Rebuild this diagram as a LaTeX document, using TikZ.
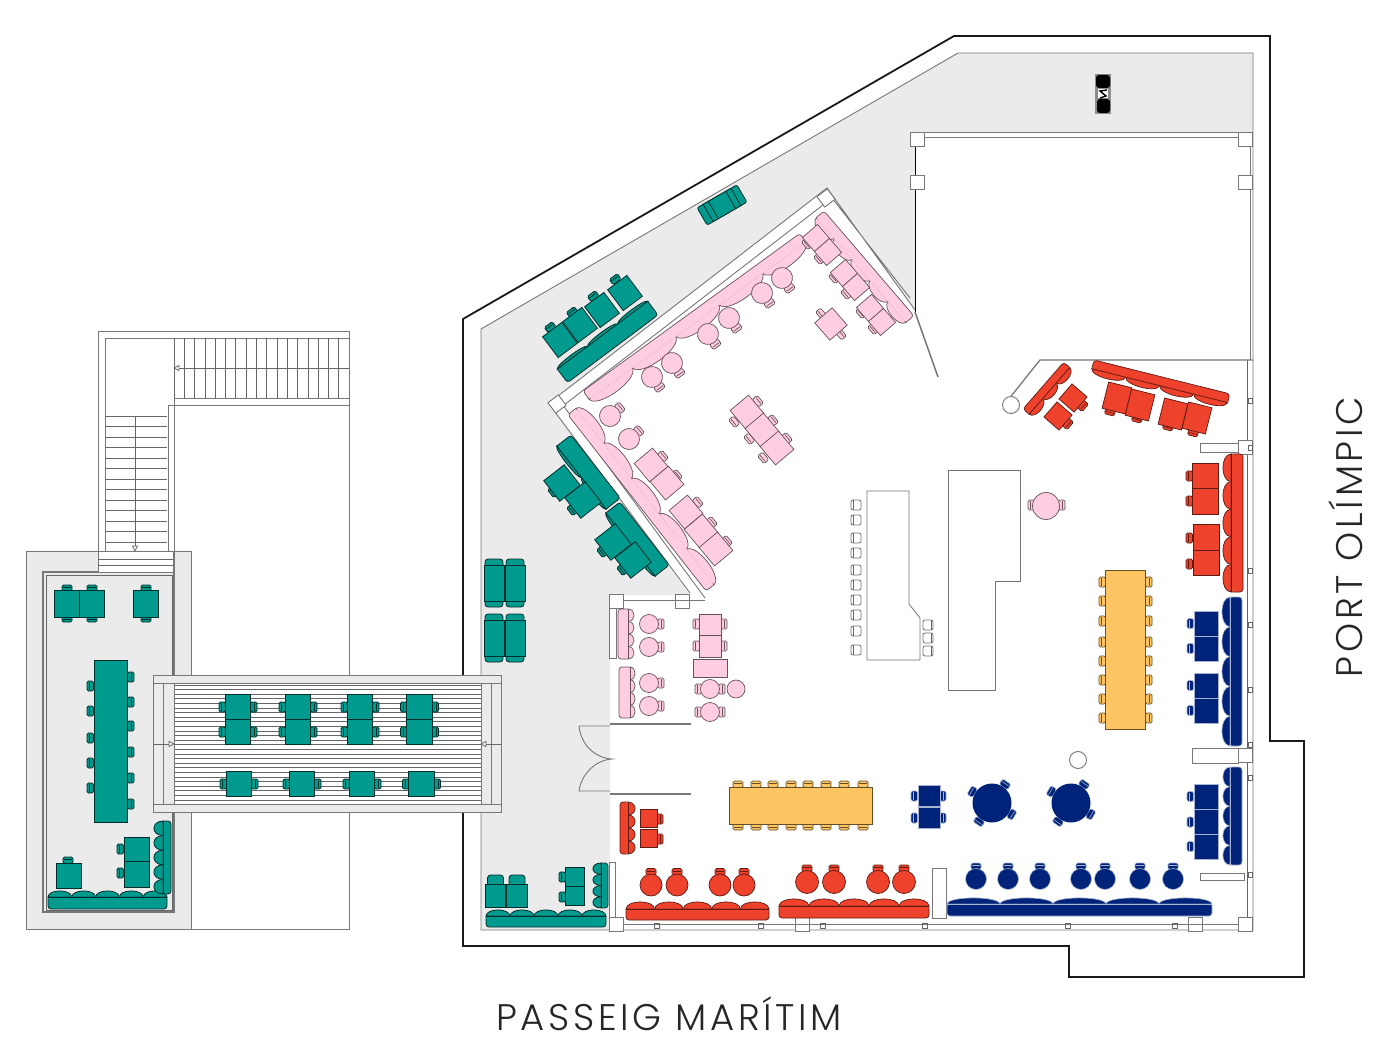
\documentclass[tikz,border=0pt]{standalone}
\usepackage{fontspec}
\setmainfont{Poppins Light}[LetterSpace=10]
\definecolor{terrace}{HTML}{EBEBEB}
\definecolor{wallgrey}{HTML}{777777}
\definecolor{planteal}{HTML}{009A8E}
\definecolor{planpink}{HTML}{FFCDE2}
\definecolor{planred}{HTML}{EE422C}
\definecolor{plannavy}{HTML}{00237A}
\definecolor{planamber}{HTML}{FFC562}
\tikzset{
    wallline/.style={draw=wallgrey,line width=0.9pt},
    wallthin/.style={draw=black!60,line width=0.7pt},
    wallpart/.style={draw=wallgrey,line width=0.9pt,fill=white},
    outerwall/.style={draw=black!90,line width=1.8pt},
    barpart/.style={draw=black!55,line width=0.8pt,fill=white},
    tealpart/.style={draw=black!70!planteal,line width=0.8pt,fill=planteal},
    pinkpart/.style={draw=black!60!planpink,line width=0.7pt,fill=planpink},
    redpart/.style={draw=black!60!planred,line width=0.7pt,fill=planred},
    navypart/.style={draw=white!65!plannavy,line width=0.6pt,fill=plannavy},
    amberpart/.style={draw=black!60!planamber,line width=0.7pt,fill=planamber},
    benchinner/.style={},
    streetlabel/.style={font=\fontsize{37}{37}\selectfont,text=black!85}
}
\newcommand{\seat}[4]{%
    \begin{scope}[shift={(#2,#3)},rotate=#4]
        \draw[#1,rounded corners=1.5] (-5,-3) rectangle (5,3.5);
        \draw[#1] (-4,-0.5) -- (4,-0.5);
    \end{scope}}
\newcommand{\desk}[6]{%
    \begin{scope}[shift={(#2,#3)},rotate=#6]
        \draw[#1] ({-(#4)/2},{-(#5)/2}) rectangle ({(#4)/2},{(#5)/2});
    \end{scope}}
\newcommand{\stool}[5]{%
    \begin{scope}[shift={(#2,#3)},rotate=#5]
        \seat{#1}{0}{-#4-2.5}{0}
        \draw[#1] (0,0) circle (#4);
    \end{scope}}
\newcommand{\bench}[8]{%
    \begin{scope}[shift={(#2,#3)},rotate=#8]
        \pgfmathsetmacro\cellw{(#4)/(#7)}
        \foreach \k in {1,...,#7} {
            \draw[#1] ({(\k-1)*\cellw},#5) .. controls ({(\k-0.98)*\cellw},{#5+#6*1.35}) and ({(\k-0.02)*\cellw},{#5+#6*1.35}) .. ({\k*\cellw},#5) -- cycle;
        }
        \path[#1,draw=none,rounded corners=3] (0,0) rectangle (#4,#5+0.5);
        \draw[#1,fill=none,rounded corners=3] (0,#5) -- (0,0) -- (#4,0) -- (#4,#5);
        \draw[#1,fill=none,benchinner] (0,#5) -- (#4,#5);
    \end{scope}}
\begin{document}
\begin{tikzpicture}[x=1pt,y=-1pt]
    \useasboundingbox (0,0) rectangle (1390,1048);
    \fill[white] (0,0) rectangle (1390,1048);

    \draw[wallline] (191,929) -- (349,929) -- (349,331) -- (98,331) -- (98,551);
    \draw[wallline] (105,572) -- (105,338) -- (349,338);
    \draw[wallline] (168,551) -- (168,405) -- (349,405);
    \draw[wallline] (174,551) -- (174,398) -- (349,398);
    \foreach \xp in {174,184.3,...,349} {
        \draw[wallthin] (\xp,338) -- (\xp,398);
    }
    \foreach \yp in {416,426.5,...,551} {
        \draw[wallthin] (105,\yp) -- (167,\yp);
    }
    \draw[wallthin] (349,368) -- (178,368);
    \draw[wallthin,fill=white] (174,368) -- (179,365.5) -- (179,370.5) -- cycle;
    \draw[wallthin] (135,416) -- (135,546);
    \draw[wallthin,fill=white] (135,551) -- (132.5,546) -- (137.5,546) -- cycle;

    \draw[wallline,fill=terrace] (26,551) rectangle (191,929);
    \draw[wallline,fill=white] (98,551) rectangle (174,572);
    \draw[wallthin] (98,559) -- (174,559) (98,565) -- (174,565);
    \draw[wallline,line width=1.4pt] (98,572) -- (43,572) -- (43,912) -- (174,912) -- (174,551);
    \draw[wallthin] (46,575) rectangle (172,910);

    \fill[terrace] (481,329) -- (958,53) -- (1253,53) -- (1253,132) -- (915,132) -- (915,310) -- (827,188) -- (549,403) -- (690,595) -- (610,595) -- (610,930) -- (481,930) -- cycle;
    \draw[outerwall] (463,319) -- (954,36) -- (1270,36) -- (1270,741) -- (1304,741) -- (1304,977) -- (1069,977) -- (1069,946) -- (463,946) -- cycle;
    \draw[wallline] (481,329) -- (958,53) -- (1253,53) -- (1253,930) -- (481,930) -- cycle;

    \draw[wallline] (910,132) -- (1253,132) (915,137) -- (1250,137);
    \draw[wallline,draw=black] (915,132) -- (915,312);
    \draw[wallline,line width=1.5pt] (915,312) -- (938,377);
    \draw[wallline] (1250,137) -- (1250,360);
    \draw[wallthin] (1247,360) -- (1247,918);
    \foreach \xp/\yp in {917/139,917/182,1245/139,1245/182,1245/447,1245/755,1245/924,1195/924,802/924,616/924} {
        \desk{wallpart}{\xp}{\yp}{14}{14}{0}
    }
    \draw[wallline,line width=1.3pt] (1253,360) -- (1040,360) -- (1008,400);
    \draw[wallline,fill=white] (1011,405) circle (8.5);
    \draw[wallline,fill=white] (1078,760) circle (8.5);

    \draw[wallline,fill=white] (1192,748) rectangle (1238,763);
    \draw[wallline,fill=white] (1200,443) rectangle (1238,452);
    \draw[wallline,fill=white] (1200,873) rectangle (1244,880);
    \draw[wallline,fill=white] (932,868) rectangle (946,918);
    \draw[wallline,fill=white] (609,862) rectangle (615,917);
    \draw[wallline] (623,924) -- (1238,924);

    \draw[wallline,fill=white] (827,188) -- (549,403) -- (555,412) -- (832,198) -- cycle;
    \draw[wallline] (827,188) -- (915,310) (832,198) -- (910,298);
    \draw[wallline] (555,412) -- (690,593) (563,405) -- (705,598);
    \desk{wallpart}{557}{404}{13}{13}{37}
    \desk{wallpart}{826}{198}{13}{13}{37}
    \desk{wallpart}{616}{601}{14}{14}{0}
    \desk{wallpart}{682}{601}{14}{14}{0}
    \draw[wallline] (623,600) -- (705,600);
    \draw[wallline,fill=white] (609,608) rectangle (616,658);
    \draw[wallline,line width=1.4pt] (610,724) -- (691,724) (610,794) -- (691,794);
    \draw[wallline] (610,726) -- (579,726) .. controls (581,745) and (595,758) .. (612,759) .. controls (595,760) and (581,775) .. (579,791) -- (610,791);
    \foreach \xp/\yp in {654/923,758/923,820/923,922/923,1065/923,1172/923} {
        \draw[wallthin] (\xp,\yp) rectangle ++(5,5);
    }
    \foreach \yp in {398,445,568,622,687,742,775,872} {
        \draw[wallthin] (1248,\yp) rectangle ++(4,5);
    }

    \draw[barpart] (867,491) -- (909,491) -- (909,604) -- (920,618) -- (920,660) -- (867,660) -- cycle;
    \draw[barpart] (948,470) -- (1020,470) -- (1020,581) -- (995,581) -- (995,690) -- (948,690) -- cycle;
    \foreach \yp in {505,520,538,553,570,585,600,615,631,650} {
        \draw[barpart,rounded corners=2] (851,\yp-5) rectangle (861,\yp+5);
        \draw[wallthin] (853,\yp-5) -- (853,\yp+5);
    }
    \foreach \yp in {625,638,651} {
        \draw[barpart,rounded corners=2] (923,\yp-5) rectangle (933,\yp+5);
        \draw[wallthin] (931,\yp-5) -- (931,\yp+5);
    }

    \draw[wallline,fill=terrace] (153,675) rectangle (501,812);
    \fill[white] (174,683) rectangle (481,804);
    \foreach \yp in {685,689.6,...,804} {
        \draw[wallthin] (174,\yp) -- (481,\yp);
    }
    \draw[wallline] (153,683) -- (501,683) (153,804) -- (501,804);
    \draw[wallline] (163,683) -- (163,804) (174,683) -- (174,804) (481,683) -- (481,804) (491,683) -- (491,804);
    \draw[wallthin] (153,744) -- (169,744) (485,744) -- (501,744);
    \draw[wallthin,fill=white] (174,744) -- (169,741.5) -- (169,746.5) -- cycle;
    \draw[wallthin,fill=white] (481,744) -- (486,741.5) -- (486,746.5) -- cycle;

    \foreach \xp in {238,298,360,419.5} {
        \foreach \yp in {707,732} {
            \seat{tealpart}{\xp-16}{\yp}{90}
            \seat{tealpart}{\xp+16}{\yp}{-90}
            \desk{tealpart}{\xp}{\yp}{25.5}{25}{0}
        }
    }
    \foreach \xp in {239,302,362,421.5} {
        \seat{tealpart}{\xp-16}{784}{90}
        \seat{tealpart}{\xp+16}{784}{-90}
        \desk{tealpart}{\xp}{784}{25.5}{25}{0}
    }
    \foreach \xp in {67,92,146} {
        \seat{tealpart}{\xp}{588}{0}
        \seat{tealpart}{\xp}{619}{180}
        \desk{tealpart}{\xp}{603.5}{25.5}{27}{0}
    }
    \foreach \yp in {686,711,738,763,788} {
        \seat{tealpart}{90}{\yp}{90}
    }
    \foreach \yp in {677,702,726,752,778,804} {
        \seat{tealpart}{131}{\yp}{-90}
    }
    \desk{tealpart}{110.5}{741}{33}{162}{0}
    \seat{tealpart}{120}{849}{90}
    \seat{tealpart}{120}{873}{90}
    \desk{tealpart}{136.5}{849}{25}{24}{0}
    \desk{tealpart}{136.5}{874}{25}{26}{0}
    \seat{tealpart}{68}{860}{0}
    \desk{tealpart}{68.5}{875.5}{25}{25}{0}
    \bench{tealpart}{167}{909}{119}{12}{6}{5}{180}
    \bench{tealpart}{171}{821}{73}{8}{9}{5}{-90}

    \foreach \xp/\yp in {494/583,515/583,494/638,515/638} {
        \draw[tealpart,rounded corners=3] (\xp-9,\yp-24) rectangle (\xp+9,\yp+24);
        \desk{tealpart}{\xp}{\yp}{20}{36}{0}
    }
    \foreach \xp in {495.5,517} {
        \draw[tealpart,rounded corners=3] (\xp-8,875) rectangle (\xp+8,888);
        \desk{tealpart}{\xp}{896}{20.5}{23}{0}
    }
    \bench{tealpart}{606}{927}{120}{11}{6}{5}{180}
    \seat{tealpart}{562}{877}{90}
    \seat{tealpart}{562}{897}{90}
    \desk{tealpart}{574.5}{876.5}{19}{19}{0}
    \desk{tealpart}{574.5}{895.5}{19}{19}{0}
    \bench{tealpart}{608}{863}{45}{7}{8}{4}{-90}

    \begin{scope}[shift={(722,205)},rotate=30]
        \draw[tealpart,rounded corners=2] (-23,-10) rectangle (23,10);
        \desk{tealpart}{0}{0}{32}{20}{0}
        \draw[tealpart] (-10,-10) -- (-10,10) (10,-10) -- (10,10);
    \end{scope}

    \bench{tealpart}{658}{315}{113}{17}{3}{3}{216.8}
    \foreach \xp/\yp/\xc/\yc in {560/340/550/327,580/325/572/312,602/310/593/296,625/293/615/279} {
        \seat{tealpart}{\xc}{\yc}{36.8}
        \desk{tealpart}{\xp}{\yp}{24}{26}{36.8}
    }
    \bench{tealpart}{571}{435}{80}{18}{3}{2}{-52}
    \bench{tealpart}{620}{502}{80}{18}{3}{2}{-52}
    \foreach \xp/\yp/\xc/\yc in {562/483/553/492,583/500/572/510,613/542/602/552,633/560/622/570} {
        \seat{tealpart}{\xc}{\yc}{128}
        \desk{tealpart}{\xp}{\yp}{26}{26}{-52}
    }

    \begin{scope}[benchinner/.style={draw=none}]
        \bench{pinkpart}{583}{391}{268}{10}{10}{5}{36}
        \bench{pinkpart}{824}{211}{138}{10}{7}{5}{-49.4}
        \bench{pinkpart}{706}{591}{224}{10}{9}{5}{128.1}
    \end{scope}
    \foreach \xp/\yp in {652/377,672/363,708/334,729/318,762/293,782/278} {
        \stool{pinkpart}{\xp}{\yp}{10.5}{216}
    }
    \foreach \xp/\yp in {610/416,629/439} {
        \stool{pinkpart}{\xp}{\yp}{10.5}{-50}
    }
    \foreach \xp/\yp in {807/244,819/259,834/278,846/294,861/313,873/329,821/314} {
        \seat{pinkpart}{\xp}{\yp}{131}
    }
    \foreach \xp/\yp in {816/238,828/252,844/273,856/287,870/308,882/322} {
        \desk{pinkpart}{\xp}{\yp}{18.5}{20}{-49}
    }
    \seat{pinkpart}{841}{334}{-49}
    \desk{pinkpart}{831}{324}{23}{23}{-49}
    \foreach \xp/\yp in {663/456,677/475,698/502,712/522,727/541,758/401,773/420,787/438} {
        \seat{pinkpart}{\xp}{\yp}{-50}
    }
    \foreach \xp/\yp in {734/422,749/439,763/458} {
        \seat{pinkpart}{\xp}{\yp}{130}
    }
    \foreach \xp/\yp in {651/465,667/483,686/512,701/531,716/549,747/412,762/430,777/448} {
        \desk{pinkpart}{\xp}{\yp}{24}{24}{-50}
    }
    \bench{pinkpart}{618}{659}{50}{10}{6}{4}{90}
    \bench{pinkpart}{619}{718}{51}{11}{5}{4}{90}
    \foreach \yp in {624,647,683,706} {
        \stool{pinkpart}{649}{\yp}{9.5}{-90}
    }
    \foreach \yp in {624,646} {
        \seat{pinkpart}{696}{\yp}{90}
        \seat{pinkpart}{724}{\yp}{-90}
    }
    \desk{pinkpart}{710}{624.5}{22}{21}{0}
    \desk{pinkpart}{710}{646}{22}{22}{0}
    \desk{pinkpart}{710}{668}{34}{18}{0}
    \foreach \yp in {689,712} {
        \seat{pinkpart}{698}{\yp}{90}
        \seat{pinkpart}{722}{\yp}{-90}
        \draw[pinkpart] (710,\yp) circle (9.5);
    }
    \draw[pinkpart] (736,689) circle (9);
    \seat{pinkpart}{1031}{505}{90}
    \seat{pinkpart}{1062}{505}{-90}
    \draw[pinkpart] (1046,506) circle (13.5);

    \bench{redpart}{1094}{360}{140}{9}{6}{4}{-14}
    \foreach \xp/\yp/\xc/\yc in {1117/398/1110/412,1140/405/1137/419,1173/414/1168/427,1197/418/1193/433} {
        \seat{redpart}{\xc}{\yc}{166}
        \desk{redpart}{\xp}{\yp}{24}{27}{-14}
    }
    \bench{redpart}{1023}{409}{62}{8}{6}{3}{49}
    \foreach \xp/\yp/\xc/\yc in {1073/398/1083/406,1058/416/1068/424} {
        \seat{redpart}{\xc}{\yc}{229}
        \desk{redpart}{\xp}{\yp}{20}{20}{49}
    }
    \bench{redpart}{1243}{454}{138}{12}{8}{5}{-90}
    \foreach \yc/\yp/\xp in {476/476/1205,501/501.5/1205,538/537.5/1206,564/563/1206} {
        \seat{redpart}{1189}{\yc}{90}
        \desk{redpart}{\xp}{\yp}{26}{25.5}{0}
    }
    \bench{redpart}{620}{854}{52}{8}{7}{4}{90}
    \foreach \yp in {819,839} {
        \seat{redpart}{660}{\yp}{-90}
        \desk{redpart}{648.5}{\yp-1}{17}{18}{0}
    }
    \foreach \xp in {651,677,720,744} {
        \stool{redpart}{\xp}{885}{11}{0}
    }
    \foreach \xp in {807,834,878,904} {
        \stool{redpart}{\xp}{882}{11.5}{0}
    }
    \bench{redpart}{769}{920}{143}{11}{7}{5}{180}
    \bench{redpart}{929}{918}{150}{12}{7}{5}{180}

    \bench{navypart}{1242}{597}{149}{12}{8}{5}{-90}
    \bench{navypart}{1242}{767}{98}{12}{7}{5}{-90}
    \bench{navypart}{1212}{916}{265}{12}{6}{5}{180}
    \foreach \yp in {623.5,648.5,685.5,710.5,796.5,822,846.5} {
        \seat{navypart}{1190}{\yp}{90}
        \desk{navypart}{1206}{\yp}{24}{25}{0}
    }
    \foreach \xp in {976,1008,1040,1081,1105,1140,1173} {
        \stool{navypart}{\xp}{879}{10.5}{0}
    }
    \foreach \yp in {796,818} {
        \seat{navypart}{914}{\yp}{90}
        \seat{navypart}{943}{\yp}{-90}
        \desk{navypart}{929}{\yp}{22}{21.5}{0}
    }
    \foreach \xp in {992,1071} {
        \foreach \ra in {60,-35,-120,145} {
            \begin{scope}[shift={(\xp,803)},rotate=\ra]
                \seat{navypart}{0}{-23}{0}
            \end{scope}
        }
        \fill[plannavy] (\xp,803) circle (19.5);
    }

    \foreach \xp in {738,756,773,791,808,826,844,863} {
        \seat{amberpart}{\xp}{784}{0}
        \seat{amberpart}{\xp}{827}{180}
    }
    \desk{amberpart}{800.5}{805.5}{143}{37}{0}
    \foreach \yp in {582,601,621,642,661,680,699,718} {
        \seat{amberpart}{1102}{\yp}{90}
        \seat{amberpart}{1149}{\yp}{-90}
    }
    \desk{amberpart}{1125.5}{649.5}{40}{159}{0}

    \fill[black!45] (1095,74) rectangle (1111,114);
    \fill[black,rounded corners=3] (1096,75) rectangle (1110,88);
    \fill[black,rounded corners=3] (1097,99) rectangle (1110,113);
    \fill[white] (1098,89) rectangle (1108,98);
    \draw[black,line width=1.4pt] (1107,90) -- (1100,91) -- (1106,96) -- (1100,98);

    \node[streetlabel] (passeig) at (669,1014) {PASSEIG MARÍTIM};
    \node[streetlabel,rotate=90] (port) at (1346,537) {PORT OLÍMPIC};
\end{tikzpicture}
\end{document}
